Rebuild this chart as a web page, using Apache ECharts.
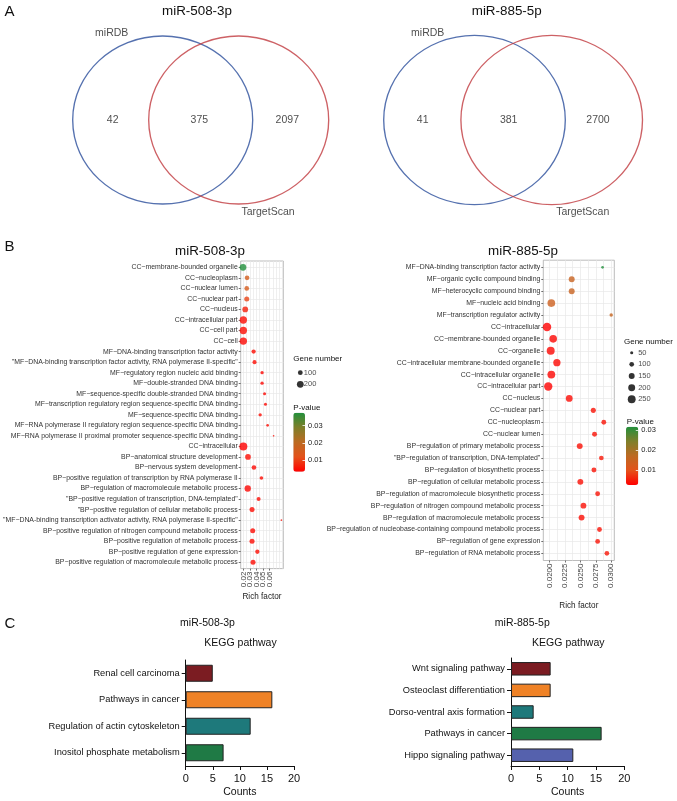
<!DOCTYPE html>
<html><head><meta charset="utf-8">
<script src="https://cdn.jsdelivr.net/npm/echarts@6/dist/echarts.min.js"></script>
<style>html,body{margin:0;padding:0;background:#fff}#c{width:677px;height:801px}</style>
</head><body><div id="c"></div>
<script>
const FONT = '"Liberation Sans", Arial, Helvetica, sans-serif';

// ---------- Panel A : Venn counts ----------
const vennTitles = ['miR-508-3p', 'miR-885-5p'];
const vennSetNames = ['miRDB', 'TargetScan'];
const venn508 = [42, 375, 2097];
const venn885 = [41, 381, 2700];

// ---------- Panel B : GO bubble plots ----------
const go508Terms = [
  'CC\u2212membrane-bounded organelle','CC\u2212nucleoplasm','CC\u2212nuclear lumen','CC\u2212nuclear part','CC\u2212nucleus',
  'CC\u2212intracellular part','CC\u2212cell part','CC\u2212cell','MF\u2212DNA-binding transcription factor activity',
  '"MF\u2212DNA-binding transcription factor activity, RNA polymerase II-specific"',
  'MF\u2212regulatory region nucleic acid binding','MF\u2212double-stranded DNA binding',
  'MF\u2212sequence-specific double-stranded DNA binding','MF\u2212transcription regulatory region sequence-specific DNA binding',
  'MF\u2212sequence-specific DNA binding','MF\u2212RNA polymerase II regulatory region sequence-specific DNA binding',
  'MF\u2212RNA polymerase II proximal promoter sequence-specific DNA binding','CC\u2212intracellular',
  'BP\u2212anatomical structure development','BP\u2212nervous system development',
  'BP\u2212positive regulation of transcription by RNA polymerase II','BP\u2212regulation of macromolecule metabolic process',
  '"BP\u2212positive regulation of transcription, DNA-templated"','"BP\u2212positive regulation of cellular metabolic process',
  '"MF\u2212DNA-binding transcription activator activity, RNA polymerase II-specific"',
  'BP\u2212positive regulation of nitrogen compound metabolic process','BP\u2212positive regulation of metabolic process',
  'BP\u2212positive regulation of gene expression','BP\u2212positive regulation of macromolecule metabolic process'
];
const go508Rich = [0.0195,0.0257,0.0252,0.0252,0.0229,0.0200,0.0200,0.0200,0.0357,0.0371,0.0486,0.0486,0.0524,0.0538,0.0457,0.0571,0.0662,0.0200,0.0271,0.0362,0.0476,0.0267,0.0433,0.0333,0.0781,0.0343,0.0333,0.0414,0.0348];
const go508Genes = [195,95,95,110,140,232,232,235,80,70,48,48,40,40,48,31,12,278,140,95,58,175,70,110,12,110,110,80,110];
const go508P = [0.0375,0.0155,0.015,0.0105,0.0065,0.0045,0.0045,0.0042,0.0045,0.0045,0.004,0.004,0.0042,0.0042,0.0045,0.0045,0.005,0.0034,0.0045,0.0042,0.0045,0.004,0.0045,0.0045,0.005,0.0045,0.0045,0.0045,0.0045];
const go508RichTicks = [0.02, 0.03, 0.04, 0.05, 0.06];
const go508GeneLegend = [100, 200];
const go508PTicks = [0.01, 0.02, 0.03];

const go885Terms = [
  'MF\u2212DNA-binding transcription factor activity','MF\u2212organic cyclic compound binding','MF\u2212heterocyclic compound binding',
  'MF\u2212nucleic acid binding','MF\u2212transcription regulator activity','CC\u2212intracellular','CC\u2212membrane-bounded organelle',
  'CC\u2212organelle','CC\u2212intracellular membrane-bounded organelle','CC\u2212intracellular organelle','CC\u2212intracellular part',
  'CC\u2212nucleus','CC\u2212nuclear part','CC\u2212nucleoplasm','CC\u2212nuclear lumen','BP\u2212regulation of primary metabolic process',
  '"BP\u2212regulation of transcription, DNA-templated"','BP\u2212regulation of biosynthetic process',
  'BP\u2212regulation of cellular metabolic process','BP\u2212regulation of macromolecule biosynthetic process',
  'BP\u2212regulation of nitrogen compound metabolic process','BP\u2212regulation of macromolecule metabolic process',
  'BP\u2212regulation of nucleobase-containing compound metabolic process','BP\u2212regulation of gene expression',
  'BP\u2212regulation of RNA metabolic process'
];
const go885Rich = [0.0286,0.0236,0.0236,0.0203,0.0300,0.0196,0.0206,0.0202,0.0212,0.0203,0.0198,0.0232,0.0271,0.0288,0.0273,0.0249,0.0284,0.0272,0.0250,0.0278,0.0255,0.0252,0.0281,0.0278,0.0293];
const go885Genes = [40,150,150,240,60,285,235,255,215,245,275,190,115,105,110,150,100,110,150,105,145,150,105,105,100];
const go885P = [0.0317,0.015,0.015,0.014,0.0155,0.0025,0.003,0.003,0.0032,0.003,0.0028,0.0035,0.004,0.0042,0.004,0.0038,0.0045,0.004,0.0038,0.0042,0.0038,0.0036,0.0042,0.0042,0.0045];
const go885RichTicks = [0.02, 0.0225, 0.025, 0.0275, 0.03];
const go885GeneLegend = [50, 100, 150, 200, 250];
const go885PTicks = [0.01, 0.02, 0.03];

// ---------- Panel C : KEGG bars ----------
const kegg508Paths = ['Renal cell carcinoma','Pathways in cancer','Regulation of actin cytoskeleton','Inositol phosphate metabolism'];
const kegg508Counts = [5, 16, 12, 7];
const kegg885Paths = ['Wnt signaling pathway','Osteoclast differentiation','Dorso-ventral axis formation','Pathways in cancer','Hippo signaling pathway'];
const kegg885Counts = [7, 7, 4, 16, 11];
const countTicks = [0, 5, 10, 15, 20];

// ---------- styling ----------
const P_COLORS = ['#FF0000', '#E4521A', '#BC6A22', '#7E7F2A', '#22903C'];
const KEGG508_COLORS = ['#7B1C22', '#EF8226', '#1E797B', '#1F7A45'];
const KEGG885_COLORS = ['#7B1C22', '#EF8226', '#1E797B', '#1F7A45', '#5561AD'];

const grid = [], xAxis = [], yAxis = [], series = [], visualMap = [], graphic = [];

function txt(t, x, y, size, align, color) {
  graphic.push({type: 'text', x: x, y: y, silent: true,
    style: {text: t, fill: color || '#111', font: size + 'px ' + FONT, textAlign: align || 'center', textVerticalAlign: 'middle'}});
}

const ELLIPSE = 'path://M1,0C1,0.5523,0.5523,1,0,1C-0.5523,1,-1,0.5523,-1,0C-1,-0.5523,-0.5523,-1,0,-1C0.5523,-1,1,-0.5523,1,0Z';
function addVenn(cx, counts, L) {
  const gi = grid.length;
  grid.push({left: cx - 130, top: 20, width: 260, height: 200});
  xAxis.push({gridIndex: gi, type: 'value', min: -130, max: 130, show: false});
  yAxis.push({gridIndex: gi, type: 'value', min: -100, max: 100, show: false});
  const xi = xAxis.length - 1, yi = yAxis.length - 1;
  series.push({type: 'scatter', xAxisIndex: xi, yAxisIndex: yi, silent: true, symbol: ELLIPSE, symbolSize: L.size, clip: false,
    itemStyle: {color: 'rgba(255,255,255,0)', borderWidth: 1.3},
    data: [{value: [-L.half, 0], itemStyle: {borderColor: '#2B4D9B'}}, {value: [L.half, 0], itemStyle: {borderColor: '#C1393E'}}]});
  series.push({type: 'scatter', xAxisIndex: xi, yAxisIndex: yi, silent: true, symbolSize: 1, clip: false,
    itemStyle: {color: 'rgba(0,0,0,0)'},
    label: {show: true, position: 'inside', fontSize: 10.5, color: '#222', fontFamily: FONT},
    data: counts.map((v, i) => ({value: [L.num[i], 0], label: {formatter: String(v)}}))
      .concat(vennSetNames.map((s, i) => ({value: L.setPos[i], label: {formatter: s}})))});
}

function addBubble(o) {
  const n = o.terms.length, gi = grid.length;
  grid.push({left: o.left, top: o.top, width: o.width, height: o.height, show: true,
    borderColor: '#ababab', borderWidth: 0.8, backgroundColor: '#fff'});
  const lines = [];
  for (let k = 0; k < 200; k++) { const v = +(o.gridFrom + k * o.gridStep).toFixed(6); if (v > o.xMax) break; lines.push(v); }
  const evenTicks = o.ticks.filter((_, i) => i % 2 === 0), oddTicks = o.ticks.filter((_, i) => i % 2 === 1);
  const labelStyle = {rotate: 90, margin: 3, fontSize: 8, hideOverlap: false, showMinLabel: true, showMaxLabel: true,
    color: '#444', fontFamily: FONT, formatter: o.fmt};
  // bottom axis: ticks, even labels, name
  xAxis.push({gridIndex: gi, type: 'value', position: 'bottom', min: o.xMin, max: o.xMax,
    axisLine: {show: false, onZero: false}, splitLine: {show: false},
    axisTick: {show: true, length: 2, customValues: o.ticks, lineStyle: {color: '#333', width: 0.7}},
    axisLabel: Object.assign({show: true, customValues: evenTicks}, labelStyle),
    name: 'Rich factor', nameLocation: 'middle', nameGap: o.nameGap,
    nameTextStyle: {fontSize: 8.2, color: '#222', fontFamily: FONT}});
  const xi = xAxis.length - 1;
  // second bottom axis: odd labels only
  xAxis.push({gridIndex: gi, type: 'value', position: 'bottom', min: o.xMin, max: o.xMax,
    axisLine: {show: false, onZero: false}, splitLine: {show: false},
    axisTick: {show: false, customValues: oddTicks},
    axisLabel: Object.assign({show: true, customValues: oddTicks}, labelStyle)});
  // top axis (invisible): vertical grid lines only
  xAxis.push({gridIndex: gi, type: 'value', position: 'top', min: o.xMin, max: o.xMax, axisLine: {show: false, onZero: false},
    axisLabel: {show: false}, axisTick: {show: false, customValues: lines},
    splitLine: {show: true, lineStyle: {color: '#e8e8e8', width: 0.7}}});
  const rows = o.terms.map((_, i) => i);
  yAxis.push({gridIndex: gi, type: 'value', min: -0.6, max: n - 0.4, inverse: true,
    axisLine: {show: false, onZero: false},
    axisTick: {show: true, length: 2, customValues: rows, lineStyle: {color: '#333', width: 0.7}},
    axisLabel: {customValues: rows, margin: 3, fontSize: 6.9, color: '#333', fontFamily: FONT,
      showMinLabel: true, showMaxLabel: true, formatter: v => o.terms[Math.round(v)]},
    splitLine: {show: true, lineStyle: {color: '#e8e8e8', width: 0.7}}});
  const yi = yAxis.length - 1;
  series.push({type: 'scatter', xAxisIndex: xi, yAxisIndex: yi, z: 5,
    symbolSize: v => o.diam(v[2]),
    data: o.terms.map((t, i) => [o.rich[i], i, o.genes[i], o.p[i]])});
  const si = series.length - 1;
  const pMin = Math.min.apply(null, o.p), pMax = Math.max.apply(null, o.p);
  visualMap.push({type: 'continuous', seriesIndex: si, dimension: 3, min: pMin, max: pMax,
    inRange: {color: P_COLORS}, calculable: false, hoverLink: false, show: true,
    left: o.cb.left, top: o.cb.top, itemWidth: o.cb.w, itemHeight: o.cb.h, padding: 0});
  // colour-bar tick labels
  const cg = grid.length;
  grid.push({left: o.cb.left, top: o.cb.top, width: o.cb.w, height: o.cb.h});
  xAxis.push({gridIndex: cg, type: 'value', min: 0, max: 1, show: false});
  yAxis.push({gridIndex: cg, type: 'value', min: pMin, max: pMax, position: 'right', z: 10,
    axisLine: {show: false, onZero: false}, splitLine: {show: false},
    axisTick: {show: true, inside: true, length: 2.5, customValues: o.pTicks, lineStyle: {color: '#fff', width: 0.8}},
    axisLabel: {customValues: o.pTicks, margin: 3, fontSize: 7.5, color: '#222', fontFamily: FONT, formatter: v => v.toFixed(2)}});
  // size legend
  const k = o.legend.length, lg = grid.length;
  grid.push({left: o.lg.x - 6, top: o.lg.y0 - o.lg.step / 2, width: 12, height: o.lg.step * k});
  xAxis.push({gridIndex: lg, type: 'value', min: -1, max: 1, show: false});
  yAxis.push({gridIndex: lg, type: 'value', min: -0.5, max: k - 0.5, inverse: true, show: false});
  const lx = xAxis.length - 1, ly = yAxis.length - 1;
  series.push({type: 'scatter', xAxisIndex: lx, yAxisIndex: ly, silent: true, clip: false,
    itemStyle: {color: '#000'}, symbolSize: v => o.diam(v[2]),
    data: o.legend.map((g, i) => [0, i, g])});
  series.push({type: 'scatter', xAxisIndex: lx, yAxisIndex: ly, silent: true, clip: false, symbolSize: 1,
    itemStyle: {color: 'rgba(0,0,0,0)'},
    label: {show: true, position: 'right', distance: 0, fontSize: 7.5, color: '#222', fontFamily: FONT, formatter: p => String(p.value[2])},
    data: o.legend.map((g, i) => [o.lg.tx, i, g])});
}

function addKegg(o) {
  const gi = grid.length;
  grid.push({left: o.left, top: o.top, width: o.width, height: o.height});
  xAxis.push({gridIndex: gi, type: 'value', min: countTicks[0], max: countTicks[countTicks.length - 1], interval: countTicks[1] - countTicks[0],
    axisLine: {show: true, lineStyle: {color: '#111', width: 1}},
    axisTick: {show: true, length: 4, lineStyle: {color: '#111', width: 1}},
    axisLabel: {fontSize: 11, color: '#111', margin: 7, fontFamily: FONT},
    splitLine: {show: false},
    name: 'Counts', nameLocation: 'middle', nameGap: o.nameGap,
    nameTextStyle: {fontSize: 10.5, color: '#111', fontFamily: FONT}});
  yAxis.push({gridIndex: gi, type: 'category', data: o.paths, inverse: true,
    axisLine: {show: true, lineStyle: {color: '#111', width: 1}},
    axisTick: {show: true, length: 4, alignWithLabel: true, lineStyle: {color: '#111', width: 1}},
    axisLabel: {fontSize: 9.3, color: '#111', margin: 6, fontFamily: FONT}});
  series.push({type: 'bar', xAxisIndex: xAxis.length - 1, yAxisIndex: yAxis.length - 1, barWidth: o.barWidth,
    itemStyle: {borderColor: '#222', borderWidth: 1},
    data: o.counts.map((v, i) => ({value: v, itemStyle: {color: o.colors[i]}}))});
}

// ---- Panel A
addVenn(200.7, venn508, {half: 38, size: [180, 168], num: [-88, -1.4, 86.6], setPos: [[-89, 86.7], [67.3, -92]]});
addVenn(513.1, venn885, {half: 38.6, size: [181.6, 169.4], num: [-90.4, -4.4, 84.9], setPos: [[-85.4, 87], [69.6, -92]]});
txt('A', 9.5, 12, 15, 'center');
txt(vennTitles[0], 197, 11, 13.4);
txt(vennTitles[1], 506.7, 11, 13.4);

// ---- Panel B
addBubble({terms: go508Terms, rich: go508Rich, genes: go508Genes, p: go508P, ticks: go508RichTicks, pTicks: go508PTicks,
  legend: go508GeneLegend, left: 237.3, top: 261, width: 46, height: 307.6,
  xMin: 0.016, xMax: 0.081, gridFrom: 0.02, gridStep: 0.005, fmt: v => v.toFixed(2), nameGap: 24,
  diam: g => 0.48 * Math.sqrt(g),
  cb: {left: 293.3, top: 412.7, w: 11.7, h: 59}, lg: {x: 300.3, y0: 372.7, step: 11.6, tx: 0.5}});
addBubble({terms: go885Terms, rich: go885Rich, genes: go885Genes, p: go885P, ticks: go885RichTicks, pTicks: go885PTicks,
  legend: go885GeneLegend, left: 543.3, top: 260.2, width: 71, height: 300.3,
  xMin: 0.019, xMax: 0.0305, gridFrom: 0.02, gridStep: 0.00125, fmt: v => v.toFixed(4), nameGap: 41.5,
  diam: g => 0.55 * Math.sqrt(g) - 0.8,
  cb: {left: 626, top: 426.7, w: 12.3, h: 58.3}, lg: {x: 631.7, y0: 352.7, step: 11.65, tx: 1}});
txt('B', 9.5, 247, 15, 'center');
txt(vennTitles[0], 210, 251, 13.4);
txt(vennTitles[1], 523, 251, 13.4);
txt('Gene number', 293.3, 358.3, 8, 'left');
txt('P-value', 293.3, 407.3, 8, 'left');
txt('Gene number', 624, 341.7, 8, 'left');
txt('P-value', 626.7, 421.7, 8, 'left');

// ---- Panel C
addKegg({paths: kegg508Paths, counts: kegg508Counts, colors: KEGG508_COLORS,
  left: 185.7, top: 660, width: 108.3, height: 106, barWidth: 17, nameGap: 21});
addKegg({paths: kegg885Paths, counts: kegg885Counts, colors: KEGG885_COLORS,
  left: 511, top: 658, width: 113.3, height: 108, barWidth: 13.5, nameGap: 21});
txt('C', 10, 624, 15, 'center');
txt(vennTitles[0], 207.5, 623.3, 10.5);
txt(vennTitles[1], 522.3, 623.3, 10.5);
txt('KEGG pathway', 240.5, 643.3, 10.5);
txt('KEGG pathway', 568.3, 643, 10.5);

const chart = echarts.init(document.getElementById('c'), null, {renderer: 'canvas'});
chart.setOption({animation: false, backgroundColor: '#fff', textStyle: {fontFamily: FONT},
  grid: grid, xAxis: xAxis, yAxis: yAxis, series: series, visualMap: visualMap, graphic: graphic});
</script></body></html>
